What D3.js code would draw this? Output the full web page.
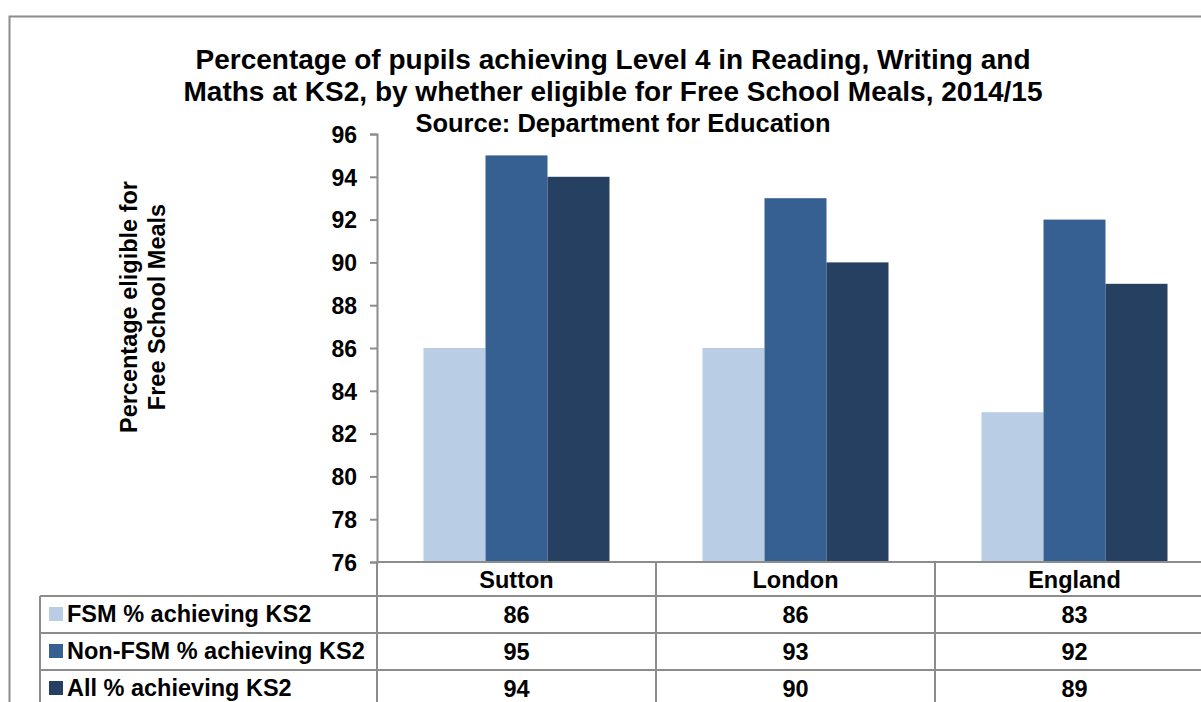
<!DOCTYPE html>
<html>
<head>
<meta charset="utf-8">
<script src="https://cdn.jsdelivr.net/npm/d3@7"></script>
<style>
    body { margin: 0; background: #fff; }
    svg { display: block; font-family: "Liberation Sans", Arial, sans-serif; font-weight: bold; }
</style>
</head>
<body>
<div id="chart"></div>
<script>
// data
const categories = ['Sutton', 'London', 'England'];
const seriesNames = ['FSM % achieving KS2', 'Non-FSM % achieving KS2', 'All % achieving KS2'];
const fsm = [86, 86, 83];
const nonFsm = [95, 93, 92];
const allPupils = [94, 90, 89];
const yTicks = [76, 78, 80, 82, 84, 86, 88, 90, 92, 94, 96];
const colors = ['#B9CDE5', '#376092', '#254061'];

const values = [fsm, nonFsm, allPupils];

const width = 1201;
const height = 702;
const plot = { left: 377, right: 1214, top: 134, bottom: 562 };
const rowTops = [596, 633, 670, 707];
const gridColor = '#8c8c8c';
const tableFont = '23.5px';

const svg = d3.select('#chart')
    .append('svg')
    .attr('width', width)
    .attr('height', height);

// outer frame
svg.append('rect')
    .attr('x', 9.5)
    .attr('y', 16.5)
    .attr('width', 1300)
    .attr('height', 800)
    .attr('fill', 'none')
    .attr('stroke', gridColor)
    .attr('stroke-width', 2);

// titles
const title = svg.append('text')
    .attr('text-anchor', 'middle')
    .style('font-size', '28px');
title.append('tspan').attr('x', 613).attr('y', 69)
    .text('Percentage of pupils achieving Level 4 in Reading, Writing and');
title.append('tspan').attr('x', 613).attr('y', 101)
    .text('Maths at KS2, by whether eligible for Free School Meals, 2014/15');

svg.append('text')
    .attr('x', 623)
    .attr('y', 132)
    .attr('text-anchor', 'middle')
    .style('font-size', '25.5px')
    .text('Source: Department for Education');

// y axis title
const yTitle = svg.append('text')
    .attr('transform', 'rotate(-90)')
    .attr('text-anchor', 'middle')
    .style('font-size', tableFont);
yTitle.append('tspan').attr('x', -307).attr('y', 137).text('Percentage eligible for');
yTitle.append('tspan').attr('x', -307).attr('y', 165).text('Free School Meals');

const x = d3.scaleBand()
    .domain(categories)
    .range([plot.left, plot.right]);

const barW = x.bandwidth() / 4.5;
const x1 = d3.scaleBand()
    .domain(d3.range(seriesNames.length))
    .range([barW * 0.75, x.bandwidth() - barW * 0.75]);

const y = d3.scaleLinear()
    .domain([76, 96])
    .range([plot.bottom, plot.top]);

// bars
const groups = svg.append('g')
    .selectAll('g')
    .data(categories)
    .join('g')
    .attr('transform', d => `translate(${x(d)},0)`);

groups.selectAll('rect')
    .data((d, ci) => values.map((s, si) => ({ si: si, v: s[ci] })))
    .join('rect')
    .attr('x', d => x1(d.si))
    .attr('y', d => y(d.v))
    .attr('width', x1.bandwidth())
    .attr('height', d => y(76) - y(d.v))
    .attr('fill', d => colors[d.si]);

// y axis
const yAxis = svg.append('g')
    .attr('transform', `translate(${plot.left},0)`)
    .call(d3.axisLeft(y).tickValues(yTicks).tickSize(7).tickPadding(13));
yAxis.select('.domain').attr('stroke', gridColor).attr('stroke-width', 2);
yAxis.selectAll('.tick line').attr('stroke', gridColor).attr('stroke-width', 2);
yAxis.selectAll('.tick text')
    .attr('fill', '#000')
    .attr('dy', '0.36em')
    .style('font-size', '23px')
    .style('font-family', '"Liberation Sans", Arial, sans-serif')
    .style('font-weight', 'bold');

// data table
const table = svg.append('g');
const line = (x1_, y1_, x2_, y2_) => table.append('line')
    .attr('x1', x1_).attr('y1', y1_).attr('x2', x2_).attr('y2', y2_)
    .attr('stroke', gridColor).attr('stroke-width', 2);

line(plot.left, plot.bottom, width + 20, plot.bottom);
rowTops.slice(0, 3).forEach(t => line(40, t, width + 20, t));
line(40, rowTops[0], 40, height);
x.domain().forEach(c => line(x(c), plot.bottom, x(c), height));
line(plot.right, plot.bottom, plot.right, height);

table.selectAll('text.cat')
    .data(categories)
    .join('text')
    .attr('class', 'cat')
    .attr('x', d => x(d) + x.bandwidth() / 2)
    .attr('y', 588)
    .attr('text-anchor', 'middle')
    .style('font-size', tableFont)
    .text(d => d);

seriesNames.forEach((name, si) => {
    const top = rowTops[si];
    table.append('rect')
        .attr('x', 49)
        .attr('y', top + 11)
        .attr('width', 14)
        .attr('height', 14)
        .attr('fill', colors[si]);
    table.append('text')
        .attr('x', 67)
        .attr('y', top + 26)
        .style('font-size', tableFont)
        .text(name);
    table.selectAll('text.v' + si)
        .data(values[si])
        .join('text')
        .attr('class', 'v' + si)
        .attr('x', (d, ci) => x(categories[ci]) + x.bandwidth() / 2)
        .attr('y', top + 27)
        .attr('text-anchor', 'middle')
        .style('font-size', tableFont)
        .text(d => d);
});
</script>
</body>
</html>
